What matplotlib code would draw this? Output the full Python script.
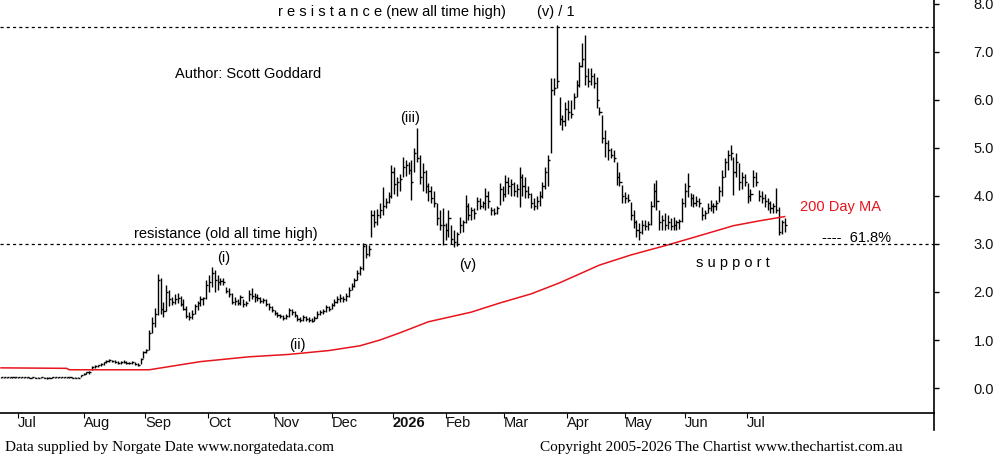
import matplotlib
matplotlib.use("Agg")
import matplotlib.pyplot as plt
from matplotlib.lines import Line2D

# ---------------- data (daily bars, trading-day index) ----------------
high = [0.24,0.24,0.23,0.24,0.24,0.23,0.23,0.24,0.24,0.23,0.23,0.23,0.22,0.23,0.23,0.22,0.22,0.22,0.23,0.23,0.24,0.24,0.24,0.23,0.24,0.23,0.23,0.22,
        0.28,0.32,0.34,0.36, 0.45,0.47,0.48,0.52, 0.55,0.58,0.60,0.59,0.58,
        0.57,0.56,0.58,0.56,0.55,0.57,0.55,0.52, 0.62,0.78,0.82,
        1.20,1.48,1.67,2.38,2.29,1.80,2.15,2.05,1.90,1.95,1.98,1.92,1.85,1.70,1.58,1.62,1.75,1.82,1.92,1.90,
        2.25,2.35,2.52,2.45,2.35,2.30,2.30,2.10,2.08,1.98,1.90,1.85,1.93,1.85,1.82,2.05,2.08,1.98,1.96,1.90,
        1.88,1.85,1.78,1.70,1.63,1.58,1.55,1.52,1.55,1.67,1.65,1.60,1.52,1.48,1.52,1.50,1.48,1.46,1.50,1.60,
        1.62,1.65,1.72,1.70,1.78,1.85,1.92,1.95,1.92,1.98,2.10,2.19,2.30,2.46,2.55,3.02,3.00,2.98,3.71,3.70,
        3.72,3.85,4.19,3.95,4.08,4.65,4.60,4.40,4.45,4.81,4.75,4.70,4.75,5.00,5.42,4.85,4.69,4.55,4.27,4.20,
        4.10,3.85,3.70,3.75,3.44,3.71,3.40,3.29,3.25,3.56,3.50,4.02,3.85,3.77,3.75,3.98,3.95,3.90,4.17,4.10,
        3.77,3.75,3.80,4.27,4.20,4.44,4.40,4.35,4.30,4.25,4.60,4.45,4.40,4.20,4.06,3.95,4.00,4.10,4.30,4.60,
        4.85,6.46,6.46,7.56,6.06,5.69,5.95,6.00,6.00,6.15,6.42,6.79,7.19,7.35,6.67,6.67,6.55,6.48,5.85,5.69,
        5.38,5.17,5.00,4.95,4.71,4.50,4.23,4.08,4.05,3.88,3.70,3.50,3.44,3.50,3.50,3.48,3.90,4.27,4.33,3.71,
        3.60,3.65,3.60,3.55,3.56,3.50,3.52,3.95,4.27,4.48,4.06,4.05,4.00,3.95,3.77,3.70,3.85,3.92,3.85,3.92,
        4.20,4.54,4.80,4.96,5.06,4.81,4.90,4.69,4.50,4.45,4.27,4.15,4.54,4.50,4.13,4.10,4.05,3.96,3.90,3.85,
        4.17,3.77,3.50,3.54]
low = [0.21,0.21,0.21,0.21,0.21,0.21,0.20,0.21,0.21,0.21,0.20,0.20,0.20,0.20,0.20,0.20,0.19,0.20,0.20,0.21,0.21,0.21,0.21,0.21,0.21,0.20,0.20,0.20,
       0.22,0.27,0.29,0.30, 0.38,0.42,0.43,0.46, 0.48,0.52,0.55,0.54,0.53,
       0.50,0.50,0.52,0.50,0.49,0.50,0.48,0.45, 0.50,0.62,0.72,
       0.80,1.15,1.27,1.52,1.55,1.48,1.60,1.70,1.72,1.75,1.78,1.70,1.62,1.45,1.42,1.44,1.55,1.62,1.70,1.72,
       1.85,2.00,2.10,2.00,2.05,2.15,2.15,1.98,1.90,1.75,1.73,1.72,1.72,1.69,1.70,1.82,1.85,1.80,1.82,1.77,
       1.77,1.70,1.63,1.58,1.52,1.48,1.45,1.42,1.44,1.48,1.52,1.48,1.40,1.38,1.40,1.40,1.38,1.38,1.40,1.45,
       1.52,1.55,1.58,1.60,1.64,1.70,1.78,1.80,1.80,1.82,1.90,2.04,2.10,2.25,2.35,2.45,2.70,2.75,3.15,3.35,
       3.40,3.55,3.60,3.75,3.85,3.96,4.05,4.00,4.10,4.40,4.42,4.45,3.92,4.50,4.70,4.25,4.10,4.06,3.90,3.85,
       3.77,3.40,3.29,2.98,3.08,3.15,3.00,2.94,2.96,3.23,3.25,3.44,3.50,3.50,3.52,3.71,3.72,3.75,3.71,3.75,
       3.60,3.60,3.62,3.81,3.90,3.98,4.05,4.00,4.00,3.98,3.77,4.00,3.96,3.96,3.75,3.71,3.72,3.80,3.95,4.15,
       4.20,4.90,6.10,6.25,5.48,5.38,5.45,5.58,5.63,5.80,6.06,6.27,6.69,6.31,6.27,6.31,6.25,5.83,5.69,5.10,
       4.81,4.75,4.79,4.71,4.23,4.20,3.85,3.85,3.88,3.50,3.33,3.15,3.08,3.20,3.29,3.30,3.40,3.77,3.71,3.29,
       3.30,3.29,3.32,3.30,3.29,3.30,3.32,3.45,3.77,3.98,3.80,3.77,3.80,3.77,3.50,3.52,3.65,3.68,3.65,3.70,
       3.88,4.00,4.40,4.55,4.75,4.02,4.40,4.13,4.15,4.20,3.85,3.90,4.19,4.20,3.90,3.85,3.77,3.70,3.65,3.65,
       3.65,3.19,3.20,3.25]
close = [0.22,0.23,0.22,0.22,0.23,0.22,0.22,0.22,0.23,0.22,0.21,0.22,0.21,0.21,0.22,0.21,0.21,0.21,0.22,0.22,0.23,0.22,0.23,0.22,0.22,0.21,0.21,0.21,
         0.27,0.30,0.33,0.34, 0.44,0.45,0.47,0.50, 0.54,0.57,0.58,0.56,0.55,
         0.53,0.54,0.55,0.52,0.53,0.54,0.50,0.48, 0.60,0.74,0.79,
         1.15,1.35,1.55,2.25,1.65,1.60,2.00,1.85,1.80,1.85,1.88,1.75,1.65,1.50,1.48,1.55,1.70,1.78,1.85,1.88,
         2.15,2.20,2.40,2.25,2.20,2.22,2.20,2.02,1.95,1.80,1.82,1.78,1.90,1.75,1.78,1.95,1.92,1.90,1.88,1.82,
         1.84,1.75,1.68,1.62,1.56,1.52,1.50,1.46,1.50,1.62,1.58,1.52,1.44,1.42,1.48,1.44,1.42,1.40,1.46,1.55,
         1.58,1.60,1.68,1.65,1.72,1.80,1.85,1.88,1.85,1.92,2.05,2.12,2.25,2.40,2.50,2.95,2.80,2.90,3.60,3.45,
         3.60,3.70,3.80,3.88,4.00,4.50,4.25,4.30,4.35,4.60,4.65,4.55,4.30,4.90,4.80,4.40,4.50,4.20,4.10,3.95,
         3.85,3.55,3.40,3.40,3.30,3.55,3.10,3.05,3.20,3.40,3.45,3.80,3.60,3.70,3.65,3.90,3.80,3.85,4.00,3.90,
         3.70,3.65,3.75,4.15,4.05,4.30,4.20,4.25,4.10,4.15,4.40,4.20,4.10,4.05,3.85,3.80,3.90,4.00,4.20,4.50,
         4.75,6.20,6.25,6.40,5.60,5.55,5.80,5.75,5.70,6.05,6.30,6.70,6.85,6.50,6.40,6.50,6.35,6.00,5.75,5.20,
         5.10,4.95,4.85,4.80,4.40,4.30,4.00,3.95,3.92,3.60,3.45,3.30,3.25,3.40,3.38,3.42,3.80,4.10,3.90,3.45,
         3.50,3.40,3.45,3.38,3.40,3.45,3.48,3.85,4.10,4.20,3.95,3.85,3.90,3.85,3.60,3.65,3.75,3.80,3.78,3.85,
         4.10,4.40,4.70,4.85,4.90,4.50,4.70,4.30,4.40,4.30,4.00,4.05,4.40,4.30,4.00,3.95,3.90,3.85,3.75,3.80,
         3.70,3.25,3.45,3.40]

# 200 day moving average, read at sample days
ma_days = [0, 23, 24, 52, 70, 87, 101, 115, 126, 133, 140, 150, 165, 175, 186, 196, 210, 221, 234, 245, 257, 266, 275]
ma_vals = [0.42, 0.41, 0.38, 0.38, 0.55, 0.65, 0.70, 0.78, 0.88, 1.00, 1.15, 1.38, 1.58, 1.77, 1.96, 2.19, 2.56, 2.77, 2.98, 3.17, 3.38, 3.48, 3.57]

month_pos = [6, 29, 50.5, 72.6, 95.8, 116, 137.5, 156, 176.5, 198.6, 219, 240, 261.8]
month_lbl = ["Jul", "Aug", "Sep", "Oct", "Nov", "Dec", "2026", "Feb", "Mar", "Apr", "May", "Jun", "Jul"]

y_ticks = [0, 1, 2, 3, 4, 5, 6, 7, 8]
resist_new = 7.52
resist_old = 3.0

# ---------------- figure ----------------
plt.rcParams['font.family'] = ['Liberation Sans', 'DejaVu Sans']
fig = plt.figure(figsize=(10, 4.61), dpi=100)
ax = fig.add_axes([0.0, 1 - 413 / 461, 0.934, 413 / 461])

days = list(range(len(high)))
ax.vlines(days, low, high, color='black', lw=1.0)
ax.hlines(close, days, [d + 0.75 for d in days], color='black', lw=1.0)

ax.plot(ma_days, ma_vals, color='#e8141c', lw=1.1)

ax.axhline(resist_new, color='black', lw=0.9, ls=(0, (2.5, 2.5)))
ax.axhline(resist_old, color='black', lw=0.9, ls=(0, (2.5, 2.5)))

ax.set_xlim(-0.35, 327.4)
ax.set_ylim(-0.52, 8.08)

for s in ['left', 'top']:
    ax.spines[s].set_visible(False)
ax.spines['bottom'].set_linewidth(1.2)
ax.spines['right'].set_linewidth(1.2)

ax.yaxis.tick_right()
ax.set_yticks(y_ticks, [f"{v:.1f}" for v in y_ticks])
ax.tick_params(axis='y', direction='out', length=3.6, width=1, pad=25, labelsize=10.5, labelcolor='#111111')

ax.set_xticks(month_pos, month_lbl)
ax.tick_params(axis='x', direction='out', length=3.6, width=0.8, pad=-1.5, labelsize=10.5, labelcolor='#111111')
for t in ax.get_xticklabels():
    t.set_horizontalalignment('left')
    if t.get_text() == '2026':
        t.set_fontweight('bold')

# right spine extension below the axis
fig.add_artist(Line2D([0.934, 0.934], [1 - 413 / 461, 1 - 430 / 461], transform=fig.transFigure, color='black', lw=1.2))

# annotations
fs = 10.5
ax.text(97.2, 7.83, "r e s i s t a n c e (new all time high)", fontsize=fs, va='center', ha='left')
ax.text(188, 7.83, "(v) / 1", fontsize=fs, va='center', ha='left')
ax.text(61, 6.54, "Author: Scott Goddard", fontsize=fs, va='center', ha='left')
ax.text(140, 5.63, "(iii)", fontsize=fs, va='center', ha='left')
ax.text(46.7, 3.21, "resistance (old all time high)", fontsize=fs, va='center', ha='left')
ax.text(76, 2.71, "(i)", fontsize=fs, va='center', ha='left')
ax.text(160.7, 2.56, "(v)", fontsize=fs, va='center', ha='left')
ax.text(101, 0.90, "(ii)", fontsize=fs, va='center', ha='left')
ax.text(280.4, 3.77, "200 Day MA", fontsize=fs, va='center', ha='left', color='#e8141c')
ax.text(288, 3.125, "----  61.8%", fontsize=fs, va='center', ha='left')
ax.text(243.9, 2.60, "s u p p o r t", fontsize=fs, va='center', ha='left')

# footer
fig.text(0.005, 1 - 447 / 461, "Data supplied by Norgate Date www.norgatedata.com",
         fontsize=11, family=['Liberation Serif', 'DejaVu Serif'], va='center', ha='left')
fig.text(0.540, 1 - 447 / 461, "Copyright 2005-2026 The Chartist www.thechartist.com.au",
         fontsize=11, family=['Liberation Serif', 'DejaVu Serif'], va='center', ha='left')

fig.savefig("out.png", dpi=100)
